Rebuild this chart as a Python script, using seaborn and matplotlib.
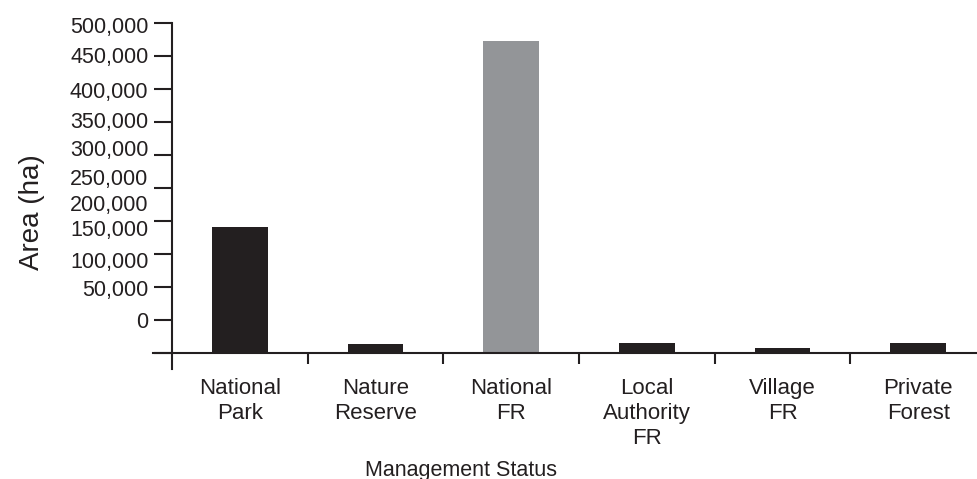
import matplotlib
matplotlib.use('Agg')
import matplotlib.pyplot as plt
import seaborn as sns
import pandas as pd

# data
categories = ['National\nPark', 'Nature\nReserve', 'National\nFR',
              'Local\nAuthority\nFR', 'Village\nFR', 'Private\nForest']
area_ha = [191000, 13600, 472700, 15000, 7600, 15000]
bar_colors = ['#231f20', '#231f20', '#939598', '#231f20', '#231f20', '#231f20']

y_ticks = list(range(0, 500001, 50000))
y_tick_labels = [f'{v:,}' for v in y_ticks]
# the printed labels sit a bit off their tick marks in the original
y_label_pos = [50000, 98500, 141000, 189000, 227000, 267000,
               311000, 353000, 398000, 451500, 497000]

ink = '#231f20'
plt.rcParams['font.family'] = ['Liberation Sans', 'DejaVu Sans']

fig = plt.figure(figsize=(9.78, 4.79), dpi=100)
ax = fig.add_axes([0.1564, 0.2296, 0.8436, 0.7223])

df = pd.DataFrame({'status': categories, 'area': area_ha})
sns.barplot(data=df, x='status', y='area', hue='status',
            palette=dict(zip(categories, bar_colors)), saturation=1,
            width=0.41, linewidth=0, legend=False, ax=ax)

ax.set_xlim(-0.64, 5.44)
ax.set_ylim(-24242, 500000)

for s in ['top', 'right']:
    ax.spines[s].set_visible(False)
ax.spines['left'].set_position(('data', -0.5))
ax.spines['bottom'].set_position(('data', 0))
for s in ['left', 'bottom']:
    ax.spines[s].set_color(ink)
    ax.spines[s].set_linewidth(1.5)

# x: tick marks between categories, names centred under bars
ax.set_xticks([0.5, 1.5, 2.5, 3.5, 4.5])
ax.set_xticklabels([])
ax.set_xticks(range(len(categories)), minor=True)
ax.set_xticklabels(categories, minor=True)
ax.tick_params(axis='x', which='major', direction='out', length=8, width=1.5, color=ink)
ax.tick_params(axis='x', which='minor', length=0, pad=18, labelsize=16, labelcolor=ink)
for t in ax.get_xticklabels(minor=True):
    t.set_linespacing(1.25)

# y: marks every 50,000, labels placed as printed
ax.yaxis.remove_overlapping_locs = False
ax.set_yticks(y_ticks)
ax.set_yticklabels([])
ax.set_yticks(y_label_pos, minor=True)
ax.set_yticklabels(y_tick_labels, minor=True)
ax.tick_params(axis='y', which='major', direction='out', length=13, width=1.5, color=ink)
ax.tick_params(axis='y', which='minor', length=0, pad=17, labelsize=15.5, labelcolor=ink)

ax.set_xlabel('Management Status', fontsize=15.5, color=ink, va='center')
ax.xaxis.set_label_coords(0.373, -0.292)
ax.set_ylabel('Area (ha)', fontsize=20, color=ink, va='center')
ax.yaxis.set_label_coords(-0.147, 0.454)

fig.savefig('out.png', dpi=100)
